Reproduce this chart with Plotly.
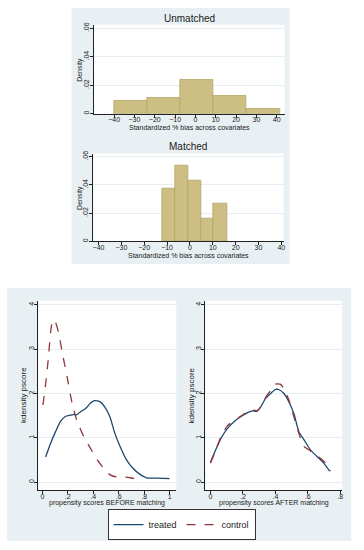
import plotly.graph_objects as go

W, H = 364, 550

# ---------------- data ----------------
unmatched_edges = [-40, -23.7, -7.4, 8.9, 25.2, 41.5]
unmatched_density = [0.0093, 0.011, 0.024, 0.0128, 0.0035]

matched_edges = [-12.2, -6.6, -0.9, 4.8, 10.4, 16.1]
matched_density = [0.0372, 0.0536, 0.0428, 0.0158, 0.0266]

before_treated_x = [0.026, 0.065, 0.104, 0.143, 0.18, 0.22, 0.25, 0.27, 0.30, 0.34, 0.377, 0.41,
                    0.455, 0.49, 0.53, 0.57, 0.61, 0.66, 0.71, 0.77, 0.82, 0.9, 1.0]
before_treated_y = [0.57, 0.88, 1.14, 1.37, 1.48, 1.51, 1.53, 1.52, 1.59, 1.66, 1.78, 1.84,
                    1.81, 1.70, 1.48, 1.10, 0.81, 0.51, 0.32, 0.17, 0.10, 0.09, 0.08]

before_control_x = [0.005, 0.026, 0.047, 0.065, 0.083, 0.104, 0.13, 0.156, 0.195, 0.234, 0.27,
                    0.325, 0.377, 0.43, 0.48, 0.53, 0.58, 0.64, 0.69, 0.766]
before_control_y = [1.74, 2.22, 2.78, 3.38, 3.66, 3.60, 3.34, 2.93, 2.37, 1.78, 1.40,
                    1.03, 0.77, 0.51, 0.32, 0.17, 0.12, 0.12, 0.10, 0.045]

after_treated_x = [0.0, 0.024, 0.065, 0.106, 0.147, 0.188, 0.229, 0.26, 0.286, 0.31, 0.34, 0.371,
                   0.40, 0.42, 0.453, 0.484, 0.514, 0.545, 0.576, 0.616, 0.657, 0.698, 0.735]
after_treated_y = [0.45, 0.66, 0.99, 1.22, 1.37, 1.48, 1.57, 1.61, 1.60, 1.70, 1.89, 2.0,
                   2.09, 2.09, 2.0, 1.81, 1.55, 1.14, 0.96, 0.73, 0.58, 0.43, 0.25]

after_control_x = [0.0, 0.024, 0.065, 0.106, 0.147, 0.188, 0.229, 0.26, 0.286, 0.31, 0.34, 0.371,
                   0.40, 0.43, 0.453, 0.484, 0.514, 0.545, 0.576, 0.606, 0.637, 0.678, 0.718, 0.739]
after_control_y = [0.43, 0.64, 1.03, 1.28, 1.39, 1.49, 1.59, 1.63, 1.61, 1.70, 1.91, 2.07,
                   2.21, 2.21, 2.11, 1.85, 1.48, 1.10, 0.81, 0.73, 0.66, 0.54, 0.40, 0.25]

hist_xticks = [-40, -30, -20, -10, 0, 10, 20, 30, 40]
hist_yticks = [0, 0.02, 0.04, 0.06]
hist_ytext = ["0", ".02", ".04", ".06"]
ps_before_ticks = [0, 0.2, 0.4, 0.6, 0.8, 1]
ps_before_text = ["0", ".2", ".4", ".6", ".8", "1"]
ps_after_ticks = [0, 0.2, 0.4, 0.6, 0.8]
ps_after_text = ["0", ".2", ".4", ".6", ".8"]
ps_yticks = [0, 1, 2, 3, 4]

# ---------------- styling ----------------
BG = "#e9f0f3"
BAR = "#cdbf83"
BAR_EDGE = "#b3a567"
NAVY = "#1a476f"
MAROON = "#90353b"
FONT = "Liberation Sans"
TXT = "#1a1a1a"


def px_x(p):
    return p / W


def px_y(p):
    return 1 - p / H


def centers(edges):
    return [(a + b) / 2 for a, b in zip(edges[:-1], edges[1:])]


def widths(edges):
    return [b - a for a, b in zip(edges[:-1], edges[1:])]


fig = go.Figure()

fig.add_trace(go.Bar(x=centers(unmatched_edges), y=unmatched_density, width=widths(unmatched_edges),
                     marker=dict(color=BAR, line=dict(color=BAR_EDGE, width=0.8)),
                     xaxis="x", yaxis="y", showlegend=False))
fig.add_trace(go.Bar(x=centers(matched_edges), y=matched_density, width=widths(matched_edges),
                     marker=dict(color=BAR, line=dict(color=BAR_EDGE, width=0.8)),
                     xaxis="x2", yaxis="y2", showlegend=False))

fig.add_trace(go.Scatter(x=before_treated_x, y=before_treated_y, mode="lines", name="treated",
                         line=dict(color=NAVY, width=1.3, shape="spline", smoothing=0.6),
                         xaxis="x3", yaxis="y3", legendrank=1))
fig.add_trace(go.Scatter(x=before_control_x, y=before_control_y, mode="lines", name="control",
                         line=dict(color=MAROON, width=1.3, dash="dash", shape="spline", smoothing=0.6),
                         xaxis="x3", yaxis="y3", legendrank=2))
fig.add_trace(go.Scatter(x=after_treated_x, y=after_treated_y, mode="lines", name="treated",
                         line=dict(color=NAVY, width=1.3, shape="spline", smoothing=0.6),
                         xaxis="x4", yaxis="y4", showlegend=False))
fig.add_trace(go.Scatter(x=after_control_x, y=after_control_y, mode="lines", name="control",
                         line=dict(color=MAROON, width=1.3, dash="dash", shape="spline", smoothing=0.6),
                         xaxis="x4", yaxis="y4", showlegend=False))

tickfont = dict(family=FONT, size=7, color=TXT)
common_x = dict(showline=True, linecolor="#222", linewidth=1, ticks="outside", ticklen=3,
                tickcolor="#222", tickfont=tickfont, showgrid=False, zeroline=False, fixedrange=True,
                ticklabelstandoff=-4)
common_y = dict(showline=True, linecolor="#222", linewidth=1, ticks="outside", ticklen=3,
                tickcolor="#222", tickfont=tickfont, tickangle=-90, showgrid=True,
                gridcolor="#e6eef1", gridwidth=1, zeroline=False, fixedrange=True,
                ticklabelstandoff=-2)

layout = dict(
    width=W, height=H, autosize=False,
    margin=dict(l=0, r=0, t=0, b=0),
    paper_bgcolor="white", plot_bgcolor="white",
    bargap=0,
    xaxis=dict(common_x, domain=[px_x(94), px_x(286)], range=[-49.8, 43.9],
               tickvals=hist_xticks, anchor="y"),
    yaxis=dict(common_y, domain=[px_y(111.5), px_y(22)], range=[0, 0.0624],
               tickvals=hist_yticks, ticktext=hist_ytext, anchor="x"),
    xaxis2=dict(common_x, domain=[px_x(93), px_x(285)], range=[-42.3, 41.0],
                tickvals=hist_xticks, anchor="y2"),
    yaxis2=dict(common_y, domain=[px_y(240), px_y(151.7)], range=[0, 0.0623],
                tickvals=hist_yticks, ticktext=hist_ytext, anchor="x2"),
    xaxis3=dict(common_x, domain=[px_x(37.7), px_x(176.7)], range=[-0.031, 1.052],
                tickvals=ps_before_ticks, ticktext=ps_before_text, anchor="y3"),
    yaxis3=dict(common_y, domain=[px_y(490.7), px_y(300)], range=[-0.179, 4.09],
                tickvals=ps_yticks, anchor="x3"),
    xaxis4=dict(common_x, domain=[px_x(206), px_x(344)], range=[-0.032, 0.812],
                tickvals=ps_after_ticks, ticktext=ps_after_text, anchor="y4"),
    yaxis4=dict(common_y, domain=[px_y(490.7), px_y(300)], range=[-0.179, 4.09],
                tickvals=ps_yticks, anchor="x4"),
    legend=dict(orientation="h", x=0.5, xanchor="center", y=px_y(525.5), yanchor="middle",
                bgcolor="white", bordercolor="#333", borderwidth=1,
                font=dict(family=FONT, size=9, color=TXT), itemwidth=30),
    shapes=[
        dict(type="rect", xref="paper", yref="paper", x0=px_x(71), x1=px_x(291),
             y0=px_y(263), y1=px_y(5), fillcolor=BG, line=dict(width=0), layer="below"),
        dict(type="rect", xref="paper", yref="paper", x0=px_x(6), x1=px_x(353),
             y0=px_y(542), y1=px_y(287), fillcolor=BG, line=dict(width=0), layer="below"),
        dict(type="rect", xref="paper", yref="paper", x0=px_x(94), x1=px_x(286),
             y0=px_y(111.5), y1=px_y(22), fillcolor="white", line=dict(width=0), layer="below"),
        dict(type="rect", xref="paper", yref="paper", x0=px_x(93), x1=px_x(285),
             y0=px_y(240), y1=px_y(151.7), fillcolor="white", line=dict(width=0), layer="below"),
        dict(type="rect", xref="paper", yref="paper", x0=px_x(37.7), x1=px_x(176.7),
             y0=px_y(490.7), y1=px_y(300), fillcolor="white", line=dict(width=0), layer="below"),
        dict(type="rect", xref="paper", yref="paper", x0=px_x(206), x1=px_x(344),
             y0=px_y(490.7), y1=px_y(300), fillcolor="white", line=dict(width=0), layer="below"),
    ],
)


def ann(text, x, y, size, angle=0):
    return dict(text=text, x=px_x(x), y=px_y(y), xref="paper", yref="paper", showarrow=False,
                xanchor="center", yanchor="middle", textangle=angle,
                font=dict(family=FONT, size=size, color=TXT))


layout["annotations"] = [
    ann("Unmatched", 190, 16, 10),
    ann("Matched", 189, 145, 10),
    ann("Standardized % bias across covariates", 190, 125, 7),
    ann("Standardized % bias across covariates", 189, 254, 7),
    ann("Density", 79, 67, 7, -90),
    ann("Density", 79, 196, 7, -90),
    ann("propensity scores BEFORE matching", 107, 503.5, 7),
    ann("propensity scores AFTER matching", 275, 503.5, 7),
    ann("kdensity pscore", 22, 395, 8, -90),
    ann("kdensity pscore", 192, 395, 8, -90),
]

fig.update_layout(layout)

fig.write_html("out.html", config={"displayModeBar": False},
               post_script="document.body.style.margin='0';document.body.style.overflow='hidden';")
